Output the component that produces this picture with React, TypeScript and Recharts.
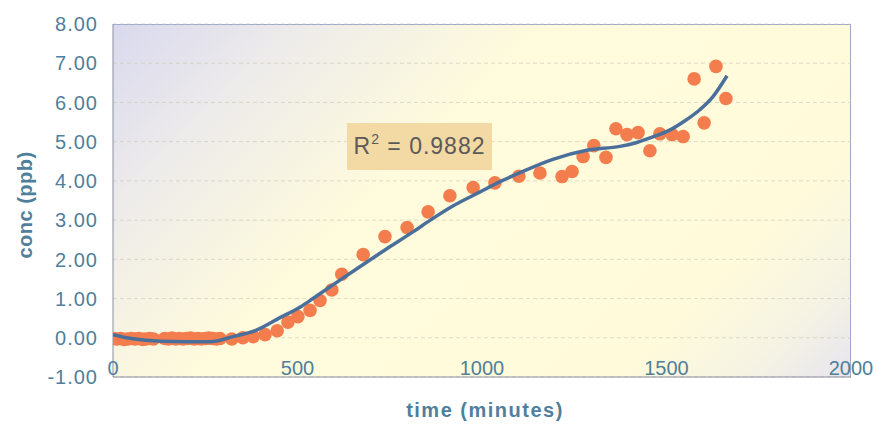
import React from 'react';
import { ComposedChart, Scatter, Line, XAxis, YAxis, CartesianGrid } from 'recharts';

// Measured concentration points (time in minutes, conc in ppb)
const pointTimes = [
  0, 10, 20, 30, 40, 50, 60, 70, 80, 90, 100, 110,
  140, 150, 160, 170, 180, 190, 200, 210, 220, 230, 240, 250, 260, 270, 280, 290,
  322, 352, 380, 412, 445, 474, 501, 534, 561, 593, 620, 678, 737, 797, 854, 913,
  976, 1035, 1100, 1157, 1217, 1244, 1274, 1303, 1336, 1363, 1393, 1423, 1455,
  1482, 1515, 1545, 1575, 1602, 1634, 1661,
];
const pointValues = [
  -0.02, -0.03, -0.02, -0.04, -0.03, -0.02, -0.03, -0.02, -0.04, -0.03, -0.02, -0.03,
  -0.02, -0.03, -0.01, -0.03, -0.02, -0.03, -0.02, -0.01, -0.03, -0.02, -0.03, -0.02, -0.01, -0.02, -0.03, -0.02,
  -0.03, 0.0, 0.03, 0.08, 0.18, 0.4, 0.54, 0.7, 0.95, 1.22, 1.62, 2.12, 2.58, 2.81, 3.21, 3.62,
  3.83, 3.95, 4.12, 4.2, 4.11, 4.24, 4.62, 4.9, 4.6, 5.33, 5.18, 5.23, 4.77,
  5.2, 5.18, 5.13, 6.6, 5.48, 6.92, 6.1,
];

// Trend line
const trendTimes = [
  0, 50, 130, 200, 263, 325, 390, 450, 510, 545, 615, 678, 742, 813, 860, 921,
  995, 1049, 1103, 1192, 1284, 1374, 1420, 1463, 1510, 1545, 1591, 1626, 1664,
];
const trendValues = [
  0.08, -0.02, -0.09, -0.1, -0.1, 0.03, 0.2, 0.5, 0.8, 1.02, 1.47, 1.87, 2.27, 2.7, 3.0, 3.36,
  3.72, 3.98, 4.21, 4.55, 4.78, 4.88, 4.98, 5.12, 5.3, 5.5, 5.82, 6.15, 6.68,
];

const xTicks = [0, 500, 1000, 1500, 2000];
const yTicks = [-1, 0, 1, 2, 3, 4, 5, 6, 7, 8];
const r2Label = '0.9882';

const points = pointTimes.map((t, i) => ({ t, v: pointValues[i] }));
const trend = trendTimes.map((t, i) => ({ t, v: trendValues[i] }));

const AXIS_COLOR = '#4f7f9c';
const FONT = '"Liberation Sans", Arial, sans-serif';

const XTick = (props: any) => {
  const { x, y, payload } = props;
  return (
    <text x={x} y={y - 2} textAnchor="middle" fill={AXIS_COLOR} fontSize={20} fontFamily={FONT}>
      {payload.value}
    </text>
  );
};

const YTick = (props: any) => {
  const { x, y, payload } = props;
  return (
    <text x={x} y={y} dy="0.36em" textAnchor="end" fill={AXIS_COLOR} fontSize={20} fontFamily={FONT} letterSpacing={1}>
      {Number(payload.value).toFixed(2)}
    </text>
  );
};

const Dot = (props: any) => {
  const { cx, cy } = props;
  return <circle cx={cx} cy={cy} r={6.8} fill="#f47d4e" />;
};

export default function App() {
  return (
    <div style={{ position: 'absolute', left: 0, top: 0, width: 876, height: 425, background: '#fff', fontFamily: FONT }}>
      <div
        style={{
          position: 'absolute',
          left: 113,
          top: 24,
          width: 738,
          height: 353,
          boxSizing: 'border-box',
          borderTop: '1px solid #9eaacb',
          borderRight: '1px solid #9eaacb',
          background: 'linear-gradient(135deg, #d9d9ee 0%, #eeecea 18%, #fffbdc 40%, #fffbda 78%, #f6f3e4 90%, #e6e5ee 100%)',
        }}
      />
      <div style={{ position: 'absolute', left: 0, top: 0 }}>
        <ComposedChart width={876} height={425} margin={{ top: 24, right: 25, bottom: 18, left: 10 }}>
          <CartesianGrid horizontal vertical={false} stroke="#c9c6b8" strokeDasharray="4 3" strokeOpacity={0.6} />
          <XAxis
            dataKey="t"
            type="number"
            domain={[0, 2000]}
            ticks={xTicks}
            height={30}
            tickLine={false}
            tickSize={0}
            tickMargin={0}
            axisLine={{ stroke: '#8a8f9c', strokeWidth: 1 }}
            tick={<XTick />}
            interval={0}
            allowDataOverflow
          />
          <YAxis
            dataKey="v"
            type="number"
            domain={[-1, 8]}
            ticks={yTicks}
            width={103}
            tickLine={false}
            tickSize={0}
            tickMargin={15}
            axisLine={{ stroke: '#8a8f9c', strokeWidth: 1 }}
            tick={<YTick />}
            interval={0}
            allowDataOverflow
          />
          <Scatter data={points} dataKey="v" fill="#f47d4e" shape={<Dot />} isAnimationActive={false} />
        </ComposedChart>
      </div>
      <div style={{ position: 'absolute', left: 0, top: 0 }}>
        <ComposedChart width={876} height={425} margin={{ top: 24, right: 25, bottom: 48, left: 113 }}>
          <XAxis dataKey="t" type="number" domain={[0, 2000]} hide allowDataOverflow />
          <YAxis dataKey="v" type="number" domain={[-1, 8]} hide allowDataOverflow />
          <Line data={trend} dataKey="v" type="monotone" stroke="#4a6f9a" strokeWidth={3.5} dot={false} activeDot={false} isAnimationActive={false} />
        </ComposedChart>
      </div>
      <div
        style={{
          position: 'absolute',
          left: 347,
          top: 123,
          width: 145,
          height: 47,
          background: '#f3d9a4',
          color: '#5a5a5a',
          fontSize: 23,
          letterSpacing: 1,
          display: 'flex',
          alignItems: 'center',
          justifyContent: 'center',
          whiteSpace: 'nowrap',
        }}
      >
        <span>
          R<sup style={{ fontSize: 14, verticalAlign: 'top', lineHeight: 1, position: 'relative', top: -1 }}>2</sup> = {r2Label}
        </span>
      </div>
      <div
        style={{
          position: 'absolute',
          left: 25,
          top: 205,
          transform: 'translate(-50%, -50%) rotate(-90deg)',
          color: AXIS_COLOR,
          fontSize: 20,
          fontWeight: 'bold',
          letterSpacing: 0.5,
          whiteSpace: 'nowrap',
        }}
      >
        conc (ppb)
      </div>
      <div
        style={{
          position: 'absolute',
          left: 485,
          top: 410,
          transform: 'translate(-50%, -50%)',
          color: AXIS_COLOR,
          fontSize: 20,
          fontWeight: 'bold',
          letterSpacing: 1.5,
          whiteSpace: 'nowrap',
        }}
      >
        time (minutes)
      </div>
    </div>
  );
}
